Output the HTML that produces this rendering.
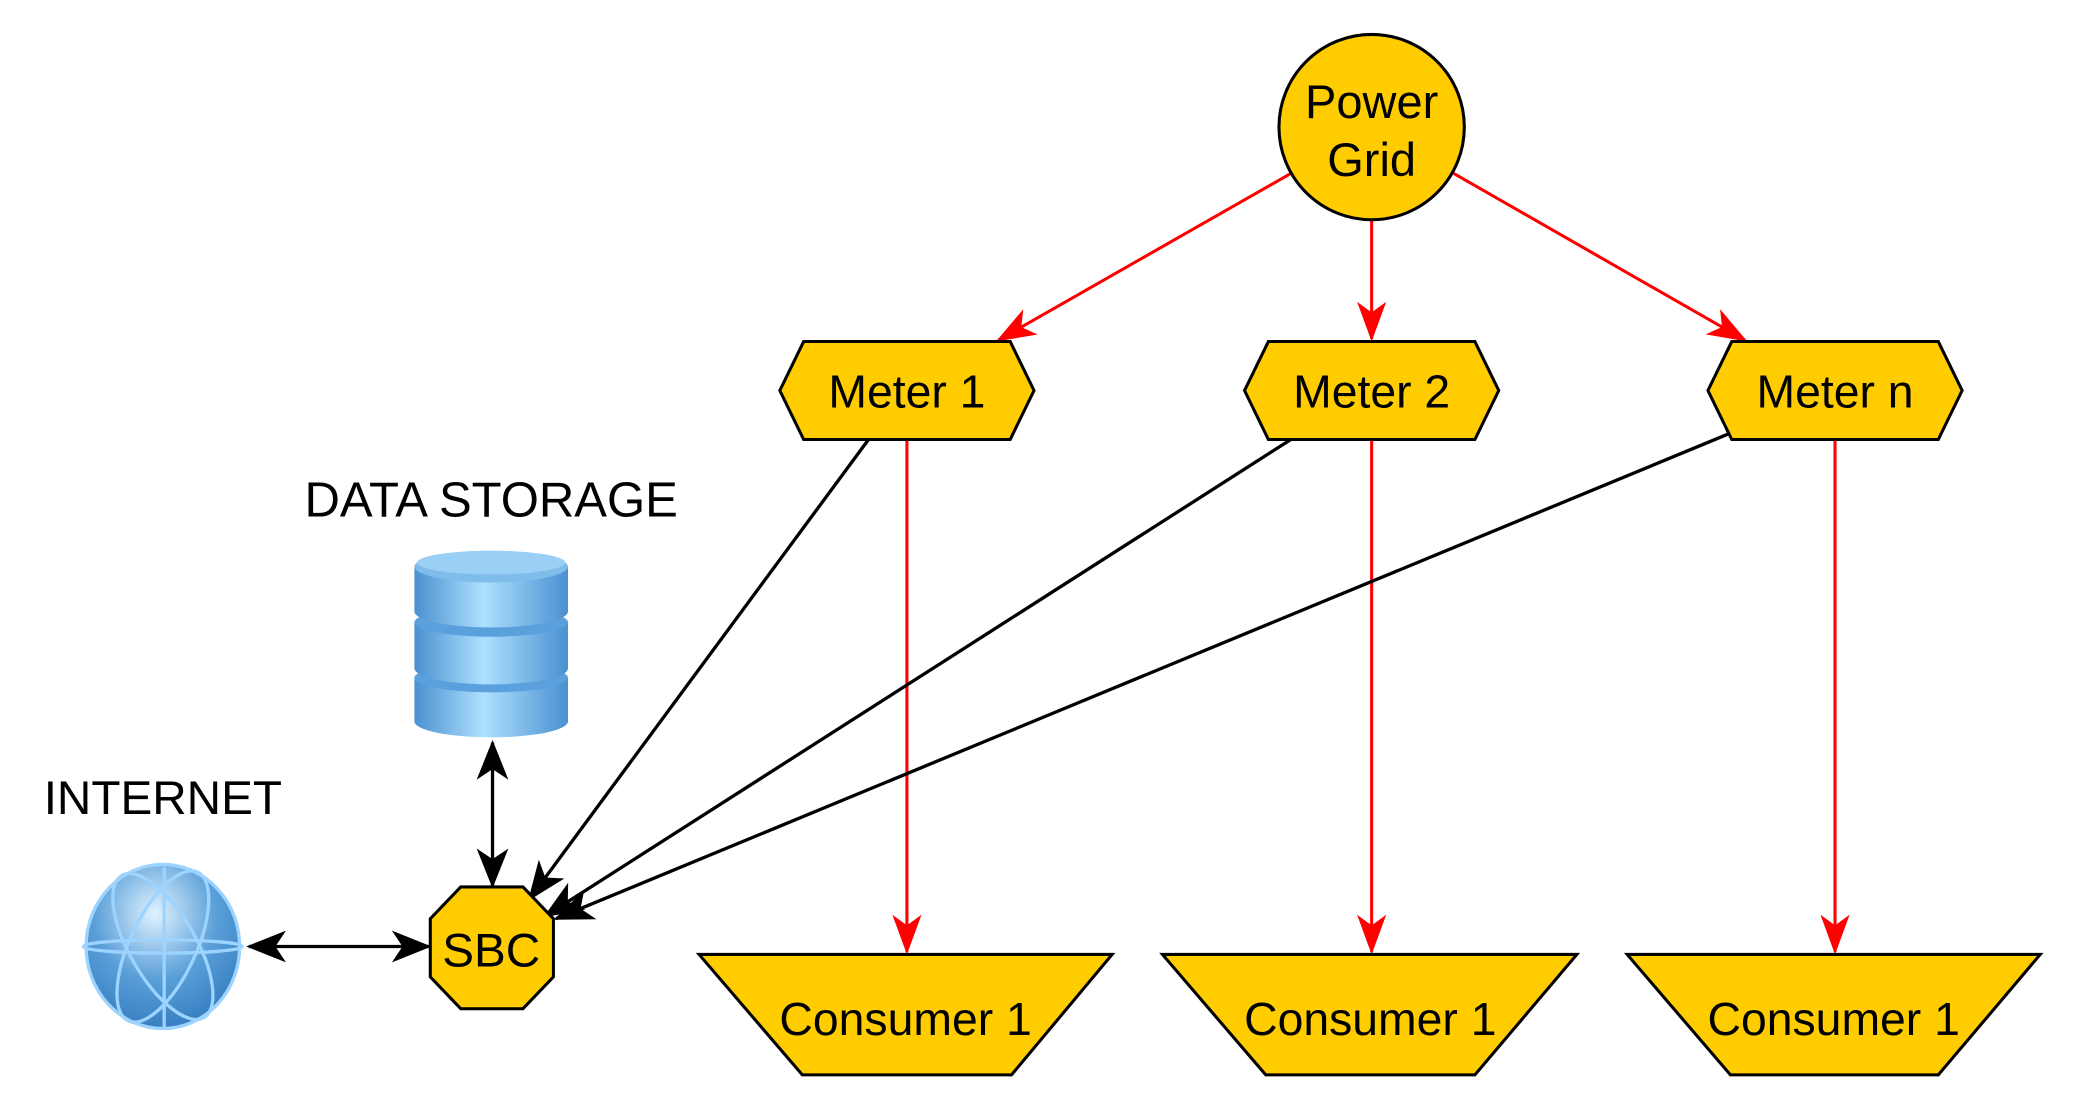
<!DOCTYPE html>
<html><head><meta charset="utf-8"><style>html,body{margin:0;padding:0;background:#fff}svg{display:block}</style></head>
<body>
<svg width="2076" height="1108" viewBox="0 0 1568 837" preserveAspectRatio="none" xmlns="http://www.w3.org/2000/svg" font-family="Liberation Sans, sans-serif">
<defs>
<marker id="rb" markerWidth="30" markerHeight="30" refX="28" refY="15" orient="auto" markerUnits="userSpaceOnUse" viewBox="0 0 30 30"><path d="M0,4 L30,15 L0,26 L8,15 Z" fill="#f00"/></marker>
<marker id="k" markerWidth="30" markerHeight="30" refX="28" refY="15" orient="auto-start-reverse" markerUnits="userSpaceOnUse" viewBox="0 0 30 30"><path d="M0,3 L30,15 L0,27 L8,15 Z" fill="#000"/></marker>
<linearGradient id="db" x1="0" x2="1"><stop offset="0" stop-color="#4a90d0"/><stop offset="0.45" stop-color="#aee0ff"/><stop offset="1" stop-color="#4a90d0"/></linearGradient>
<radialGradient id="gl" cx="0.45" cy="0.3" r="0.8"><stop offset="0" stop-color="#e0f2ff"/><stop offset="0.5" stop-color="#5a9fd8"/><stop offset="1" stop-color="#2d75bb"/></radialGradient>
</defs>
<g stroke="#f00" stroke-width="2.3" fill="none">
<line x1="975" y1="131" x2="754" y2="257" marker-end="url(#rb)"/>
<line x1="1036" y1="166" x2="1036" y2="256" marker-end="url(#rb)"/>
<line x1="1098" y1="131" x2="1318" y2="257" marker-end="url(#rb)"/>
<line x1="685" y1="332" x2="685" y2="719" marker-end="url(#rb)"/>
<line x1="1036" y1="332" x2="1036" y2="719" marker-end="url(#rb)"/>
<line x1="1386" y1="332" x2="1386" y2="719" marker-end="url(#rb)"/>
</g>
<g stroke="#000" stroke-width="2.5" fill="none">
<line x1="656" y1="332" x2="400" y2="679" marker-end="url(#k)"/>
<line x1="975" y1="332" x2="412" y2="692" marker-end="url(#k)"/>
<line x1="1305" y1="328" x2="420" y2="694" marker-end="url(#k)"/>
<line x1="372" y1="561" x2="372" y2="669" marker-end="url(#k)" marker-start="url(#k)"/>
<line x1="188" y1="715" x2="324" y2="715" marker-end="url(#k)" marker-start="url(#k)"/>
</g>
<circle cx="1036" cy="96" r="70" fill="#ffcc00" stroke="#000" stroke-width="2.3"/>
<g font-size="35.5" text-anchor="middle">
<text x="1036" y="89">Power</text>
<text x="1036" y="133">Grid</text>
</g>
<g fill="#ffcc00" stroke="#000" stroke-width="2.3">
<polygon points="607,258 763,258 781,295 763,332 607,332 589,295"/>
<polygon points="958,258 1114,258 1132,295 1114,332 958,332 940,295"/>
<polygon points="1308,258 1464,258 1482,295 1464,332 1308,332 1290,295"/>
<polygon points="528,721 840,721 764,812 606,812"/>
<polygon points="878,721 1191,721 1114,812 956,812"/>
<polygon points="1229,721 1541,721 1464,812 1307,812"/>
<polygon points="348,670 395,670 418,694 418,738 395,762 348,762 325,738 325,694"/>
</g>
<g font-size="35" text-anchor="middle">
<text x="685" y="308">Meter 1</text>
<text x="1036" y="308">Meter 2</text>
<text x="1386" y="308">Meter n</text>
<text x="684" y="782">Consumer 1</text>
<text x="1035" y="782">Consumer 1</text>
<text x="1385" y="782">Consumer 1</text>
<text x="371" y="730" font-size="36">SBC</text>
</g>
<text x="230" y="390" font-size="37" textLength="282" lengthAdjust="spacingAndGlyphs">DATA STORAGE</text>
<text x="33" y="615" font-size="36" textLength="180" lengthAdjust="spacingAndGlyphs">INTERNET</text>
<g>
<path d="M313,512 L313,545 A58,12 0 0 0 429,545 L429,512 Z" fill="url(#db)"/>
<ellipse cx="371" cy="512" rx="58" ry="11" fill="#5aa0dc"/>
<path d="M313,470 L313,505 A58,12 0 0 0 429,505 L429,470 Z" fill="url(#db)"/>
<ellipse cx="371" cy="470" rx="58" ry="11" fill="#5aa0dc"/>
<path d="M313,428 L313,462 A58,12 0 0 0 429,462 L429,428 Z" fill="url(#db)"/>
<ellipse cx="371" cy="428" rx="58" ry="12" fill="#7fbce9"/>
<ellipse cx="371" cy="425" rx="56" ry="9" fill="#9ad0f5"/>
</g>
<g>
<ellipse cx="123" cy="715" rx="58" ry="62" fill="url(#gl)"/>
<g stroke="#9dd4ff" stroke-width="2.5" fill="none">
<ellipse cx="123" cy="715" rx="60" ry="5"/>
<line x1="124" y1="655" x2="124" y2="778"/>
<ellipse cx="123" cy="715" rx="58" ry="62"/>
<ellipse cx="123" cy="715" rx="25" ry="62" transform="rotate(25 123 715)"/>
<ellipse cx="123" cy="715" rx="25" ry="62" transform="rotate(-30 123 715)"/>
</g>
</g>
</svg>
</body></html>
